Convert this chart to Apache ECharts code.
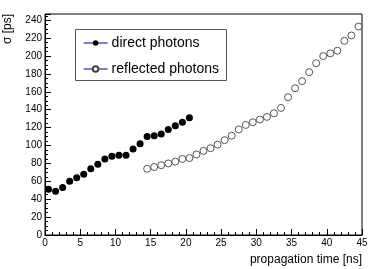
<!DOCTYPE html>
<html><head><meta charset="utf-8">
<script src="https://cdn.jsdelivr.net/npm/echarts@6/dist/echarts.min.js"></script>
<style>html,body{margin:0;padding:0;background:#fff}#c{width:382px;height:269px}</style>
</head><body><div id="c"></div>
<script>
const directX = [0.5,1.5,2.5,3.5,4.5,5.5,6.5,7.5,8.5,9.5,10.5,11.5,12.5,13.5,14.5,15.5,16.5,17.5,18.5,19.5,20.5];
const directY = [51,49,53,60,64,68,74,79,85,88,89,89,96,102,110,111,113,118,122,126,131];
const reflectedX = [14.5,15.5,16.5,17.5,18.5,19.5,20.5,21.5,22.5,23.5,24.5,25.5,26.5,27.5,28.5,29.5,30.5,31.5,32.5,33.5,34.5,35.5,36.5,37.5,38.5,39.5,40.5,41.5,42.5,43.5,44.5];
const reflectedY = [74,76,78,80,82,85,86,90,94,97,101,106,111,118,123,126,129,132,136,142,154,164,172,182,192,200,203,206,217,223,233];
const seriesNames = ['direct photons','reflected photons'];
const xTitle = 'propagation time [ns]';
const yTitle = 'σ [ps]';

const font = 'Liberation Sans, Arial, sans-serif';
const chart = echarts.init(document.getElementById('c'), null, {renderer:'canvas'});
const zip = (xs, ys) => xs.map((x,i)=>[x, ys[i]]);
chart.setOption({
  animation:false,
  backgroundColor:'#fff',
  grid:{left:45, right:20, top:14, bottom:34, show:true, borderColor:'#000', borderWidth:1, backgroundColor:'transparent'},
  xAxis:{type:'value', min:0, max:45, interval:5,
    axisLine:{lineStyle:{color:'#000', width:1}},
    axisTick:{inside:true, length:6, lineStyle:{color:'#000'}},
    minorTick:{show:true, splitNumber:5, length:3, lineStyle:{color:'#000'}},
    splitLine:{show:false},
    axisLabel:{color:'#000', fontSize:10, fontFamily:font, margin:3}},
  yAxis:{type:'value', min:0, max:247, interval:20,
    axisLine:{show:true, lineStyle:{color:'#000', width:1}},
    axisTick:{show:true, inside:true, length:6, lineStyle:{color:'#000'}},
    minorTick:{show:true, splitNumber:4, length:3, lineStyle:{color:'#000'}},
    splitLine:{show:false},
    axisLabel:{color:'#000', fontSize:10, fontFamily:font, margin:3, showMaxLabel:false}},
  legend:{show:true, orient:'vertical', left:83, top:36, padding:0, itemWidth:24, itemHeight:7, itemGap:12,
    textStyle:{fontSize:14, fontFamily:font, color:'#000', padding:[0,0,0,-1]},
    lineStyle:{color:'#2828c8', width:1.2, opacity:1},
    data:seriesNames},
  graphic:[
    {type:'rect', shape:{x:75.5, y:29.5, width:151, height:51}, style:{fill:'none', stroke:'#555', lineWidth:1}, z:-1},
    {type:'text', x:362, y:254, style:{text:xTitle, font:'12px '+font, fill:'#000', align:'right', verticalAlign:'top'}},
    {type:'text', x:8, y:14, rotation:Math.PI/2, style:{text:yTitle, font:'12px '+font, fill:'#000', align:'right', verticalAlign:'middle'}}
  ],
  series:[
    {name:seriesNames[0], type:'line', data:zip(directX,directY), symbol:'circle', symbolSize:7,
      lineStyle:{width:0, opacity:0}, itemStyle:{color:'#000', borderColor:'#000', borderWidth:0}, showSymbol:true},
    {name:seriesNames[1], type:'line', data:zip(reflectedX,reflectedY), symbol:'circle', symbolSize:7,
      lineStyle:{width:0, opacity:0}, itemStyle:{color:'#fff', borderColor:'#444', borderWidth:0.9}, showSymbol:true}
  ]
});
</script></body></html>
